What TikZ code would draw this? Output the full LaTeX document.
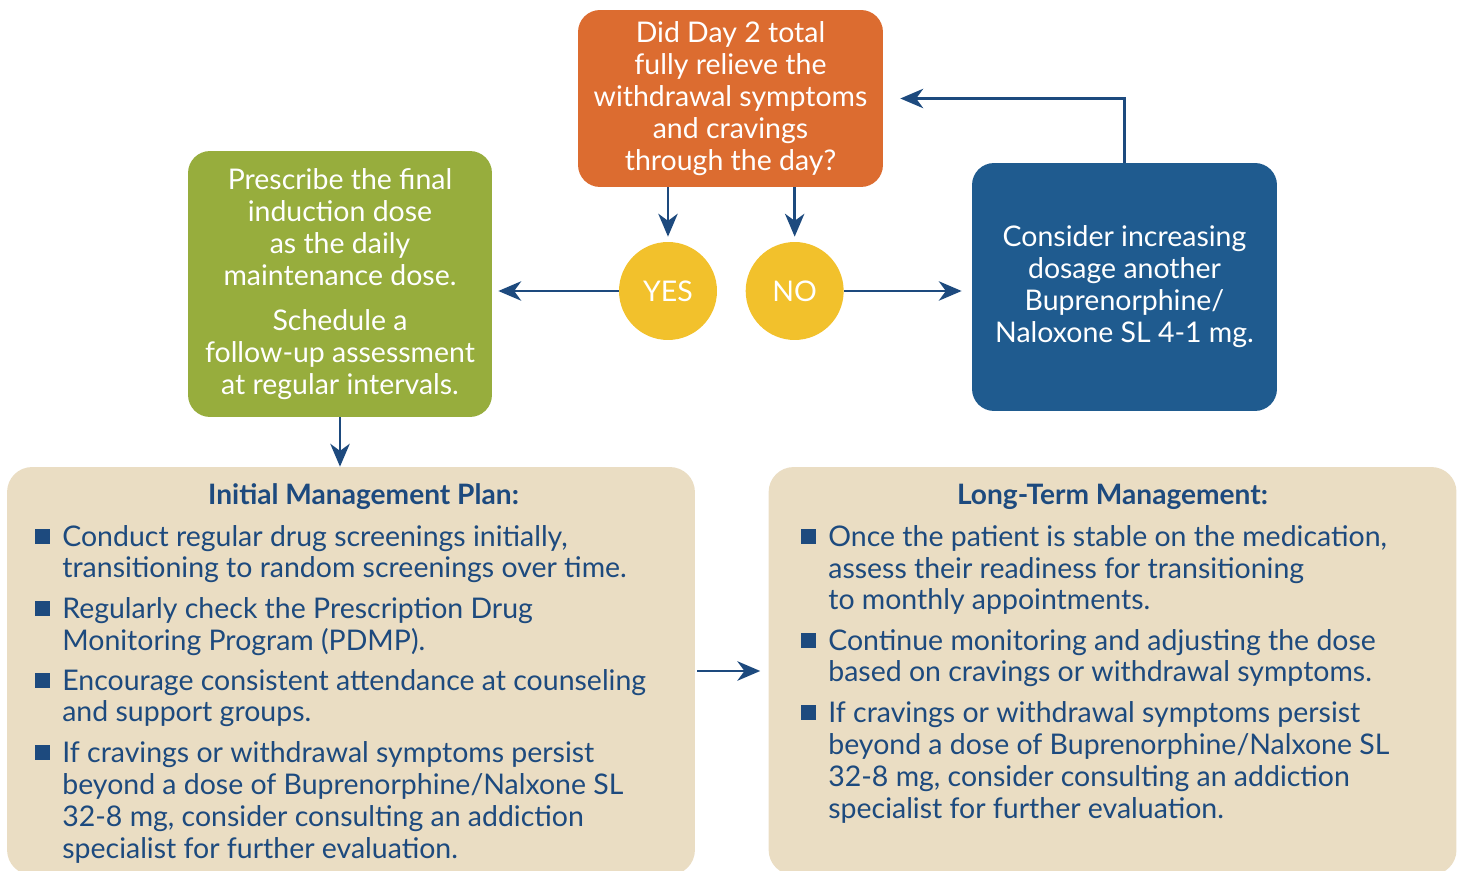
\documentclass[tikz,border=0pt]{standalone}
\usepackage{fontspec}
\setmainfont{Lato}
\usetikzlibrary{positioning,arrows.meta}
\definecolor{askorange}{HTML}{DC6C30}
\definecolor{keepgreen}{HTML}{97AD3D}
\definecolor{moreblue}{HTML}{1F5B8F}
\definecolor{ansyellow}{HTML}{F2C12C}
\definecolor{planbeige}{HTML}{EADDC3}
\definecolor{navy}{HTML}{1D4A7E}
\tikzset{
box/.style={rounded corners=0.44cm, text=white, align=center, inner sep=0pt, font=\fontsize{16.2}{18.2}\selectfont},
ans/.style={circle, fill=ansyellow, minimum size=1.96cm, inner sep=0pt, text=white, font=\fontsize{16.2}{18.2}\selectfont},
plan/.style={rounded corners=0.5cm, fill=planbeige, minimum width=13.76cm, minimum height=8.16cm},
flow/.style={navy, line width=1.7pt, -{Stealth[length=13pt,width=11pt,inset=4pt]}},
head/.style={anchor=base, inner sep=0pt, text=navy, font=\bfseries\fontsize{16}{18.2}\selectfont},
item/.style={anchor=base west, align=left, inner sep=0pt, text=navy, font=\fontsize{16.2}{18.2}\selectfont}
}
\newcommand{\blt}{\llap{\raisebox{1.1pt}{\rule{8.5pt}{8.5pt}}\hspace{6.8pt}}}

\begin{document}
\begin{tikzpicture}[x=0.02cm,y=-0.02cm]
\clip (0,0) rectangle (1465,871);
\node[box, fill=askorange, minimum width=6.1cm, minimum height=3.54cm] (ask) at (730.5,98.5) {Did Day 2 total\\fully relieve the\\withdrawal symptoms\\and cravings\\through the day?};
\node[ans] (yes) at (668,291) {YES};
\node[ans, right=0.56cm of yes] (no) {NO};
\node[box, fill=keepgreen, minimum width=6.08cm, minimum height=5.32cm] (keep) at (340,284) {Prescribe the final\\induction dose\\as the daily\\maintenance dose.\\[7.4pt]Schedule a\\follow-up assessment\\at regular intervals.};
\node[box, fill=moreblue, minimum width=6.1cm, minimum height=4.96cm] (more) at (1124.5,287) {Consider increasing\\dosage another\\Buprenorphine/\\Naloxone SL 4-1 mg.};
\node[plan] (init) at (351,671) {};
\node[plan, right=1.46cm of init] (long) {};
\node[head] (inithead) at (363.5,505) {Initial Management Plan:};
\node[head] (longhead) at (1112.5,505) {Long-Term Management:};
\node[item] (init1) at (62,578) {\blt Conduct regular drug screenings initially,\\transitioning to random screenings over time.};
\node[item] (init2) at (62,650) {\blt Regularly check the Prescription Drug\\Monitoring Program (PDMP).};
\node[item] (init3) at (62,722) {\blt Encourage consistent attendance at counseling\\and support groups.};
\node[item] (init4) at (62,858) {\blt If cravings or withdrawal symptoms persist\\beyond a dose of Buprenorphine/Nalxone SL\\32-8 mg, consider consulting an addiction\\specialist for further evaluation.};
\node[item] (long1) at (828,610) {\blt Once the patient is stable on the medication,\\assess their readiness for transitioning\\to monthly appointments.};
\node[item] (long2) at (828,682) {\blt Continue monitoring and adjusting the dose\\based on cravings or withdrawal symptoms.};
\node[item] (long3) at (828,818) {\blt If cravings or withdrawal symptoms persist\\beyond a dose of Buprenorphine/Nalxone SL\\32-8 mg, consider consulting an addiction\\specialist for further evaluation.};
\draw[flow, shorten >=0.1cm] (ask.south -| yes) -- (yes);
\draw[flow, shorten >=0.1cm] (ask.south -| no) -- (no);
\draw[flow, shorten >=0.12cm] (yes.west) -- (yes.west -| keep.east);
\draw[flow, shorten >=0.2cm] (no.east) -- (no.east -| more.west);
\draw[flow, shorten >=0.34cm] (more.north) |- (ask.east);
\draw[flow] (keep.south) -- (keep.south |- init.north);
\draw[flow, shorten <=0.04cm, shorten >=0.16cm] (init.east) -- (long.west);
\end{tikzpicture}
\end{document}
